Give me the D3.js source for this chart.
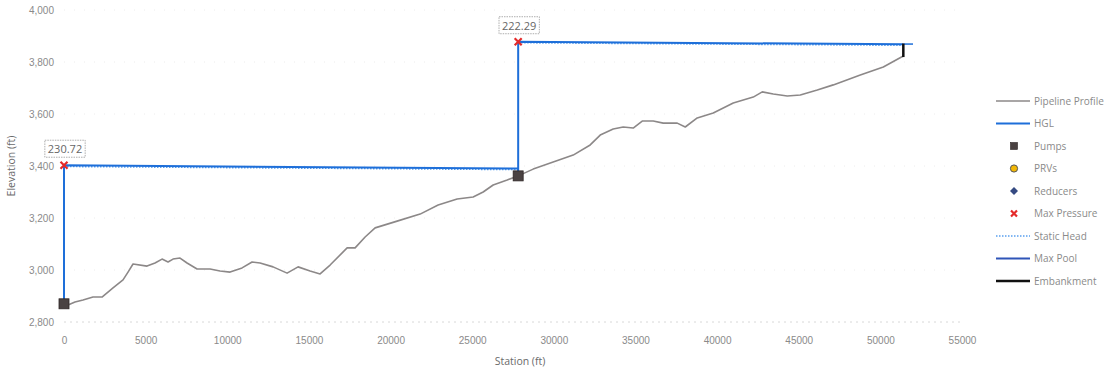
<!DOCTYPE html>
<html>
<head>
<meta charset="utf-8">
<script src="https://cdn.jsdelivr.net/npm/d3@7"></script>
<style>
  html, body { margin: 0; padding: 0; background: #fff; }
  svg { display: block; font-family: "Open Sans", "DejaVu Sans", sans-serif; }
</style>
</head>
<body>
<svg id="chart" width="1112" height="372"></svg>
<script>
// Ground profile along the pipeline: station (ft) and elevation (ft)
const profileStation = [0, 245, 674, 1164, 1777, 2328, 3002, 3615, 3921, 4227, 5085, 5575, 6004, 6372, 6678, 7107, 7536, 8149, 8945, 9558, 10171, 10906, 11519, 12009, 12805, 13663, 14337, 15072, 15685, 16298, 17340, 17830, 18443, 19055, 20403, 21812, 22915, 24079, 25059, 25672, 26285, 27143, 27817, 28736, 29961, 31186, 32228, 32841, 33637, 34250, 34863, 35414, 36088, 36701, 37559, 38049, 38784, 39764, 40990, 42215, 42767, 43441, 44299, 45095, 46137, 47117, 48771, 50181, 51406];
const profileElev = [2870, 2865, 2877, 2885, 2896, 2896, 2931, 2962, 2992, 3023, 3015, 3027, 3042, 3031, 3042, 3046, 3027, 3004, 3004, 2996, 2992, 3008, 3031, 3027, 3012, 2988, 3012, 2996, 2985, 3019, 3085, 3085, 3127, 3162, 3188, 3215, 3250, 3273, 3281, 3300, 3327, 3346, 3362, 3388, 3415, 3442, 3481, 3519, 3542, 3550, 3546, 3573, 3573, 3565, 3565, 3550, 3585, 3604, 3642, 3665, 3685, 3677, 3669, 3673, 3692, 3712, 3750, 3781, 3823];

// Hydraulic grade line, one segment per pump
const hglStation = [[0, 0, 27817], [27817, 27817, 51406]];
const hglElev = [[2870, 3403, 3390], [3362, 3878, 3868]];

// Static head lines
const staticStation = [[0, 27817], [27817, 51406]];
const staticElev = [[3398, 3386], [3874, 3864]];

// Pump stations
const pumpStation = [0, 27817];
const pumpElev = [2870, 3362];

// Maximum pressure points (psi) on each segment
const maxPStation = [0, 27817];
const maxPElev = [3403, 3878];
const maxPLabel = ["230.72", "222.29"];

// Max pool and embankment at the downstream end
const poolStation = [51406, 52000];
const poolElev = [3869, 3869];
const embStation = [51406, 51406];
const embElev = [3819, 3871];

// Axis ticks
const xTicks = [0, 5000, 10000, 15000, 20000, 25000, 30000, 35000, 40000, 45000, 50000, 55000];
const yTicks = [2800, 3000, 3200, 3400, 3600, 3800, 4000];

const legendNames = ["Pipeline Profile", "HGL", "Pumps", "PRVs", "Reducers", "Max Pressure", "Static Head", "Max Pool", "Embankment"];

const svg = d3.select("#chart");
const margin = { left: 64, right: 150, top: 10, bottom: 50 };
const W = 1112, H = 372;

const x = d3.scaleLinear().domain([0, 55000]).range([margin.left, W - margin.right]);
const y = d3.scaleLinear().domain([2800, 4000]).range([H - margin.bottom, margin.top]);

const C = {
  profile: "#8c8888",
  hgl: "#1e6fd9",
  stat: "#5aa0ee",
  pool: "#2f55b8",
  pump: "#4a4242",
  prv: "#f2b705",
  reducer: "#354a82",
  maxp: "#e42a2a",
  emb: "#111",
  text: "#8a8a8a"
};

// gridlines
svg.append("g")
  .selectAll("line")
  .data(yTicks)
  .join("line")
  .attr("x1", x(0)).attr("x2", x(55000))
  .attr("y1", d => y(d)).attr("y2", d => y(d))
  .attr("stroke", d => d === 2800 ? "#d8d8d8" : "#ececec")
  .attr("stroke-width", 1)
  .attr("stroke-dasharray", d => d === 2800 ? "2,4" : "1,9");

// y axis labels
const yAxis = d3.axisLeft(y).tickValues(yTicks).tickFormat(d3.format(",")).tickSize(0).tickPadding(10);
const gy = svg.append("g").attr("transform", `translate(${x(0)},0)`).call(yAxis);
gy.select(".domain").remove();
gy.selectAll("text").attr("fill", C.text).style("font-size", "10px");

// x axis labels
const xAxis = d3.axisBottom(x).tickValues(xTicks).tickFormat(d3.format("d")).tickSize(0).tickPadding(15);
const gx = svg.append("g").attr("transform", `translate(0,${y(2800)})`).call(xAxis);
gx.select(".domain").remove();
gx.selectAll("text").attr("fill", C.text).style("font-size", "10px");

// axis titles
svg.append("text")
  .attr("x", (x(0) + x(55000)) / 2 + 7).attr("y", 365)
  .attr("text-anchor", "middle").attr("fill", "#6a6a6a").style("font-size", "10.5px")
  .text("Station (ft)");
svg.append("text")
  .attr("transform", `translate(15,${y(3400)}) rotate(-90)`)
  .attr("text-anchor", "middle").attr("fill", "#6a6a6a").style("font-size", "10.5px")
  .text("Elevation (ft)");

const line = d3.line().x(d => x(d[0])).y(d => y(d[1]));

// pipeline profile
svg.append("path")
  .datum(d3.zip(profileStation, profileElev))
  .attr("d", line)
  .attr("fill", "none").attr("stroke", C.profile).attr("stroke-width", 1.6)
  .attr("stroke-linejoin", "round");

// static head
staticStation.forEach((st, i) => {
  svg.append("path")
    .datum(d3.zip(st, staticElev[i]))
    .attr("d", line)
    .attr("fill", "none").attr("stroke", C.stat).attr("stroke-width", 1.5)
    .attr("stroke-dasharray", "1.5,1.5");
});

// HGL
hglStation.forEach((st, i) => {
  svg.append("path")
    .datum(d3.zip(st, hglElev[i]))
    .attr("d", line)
    .attr("fill", "none").attr("stroke", C.hgl).attr("stroke-width", 2);
});

// max pool
svg.append("path")
  .datum(d3.zip(poolStation, poolElev))
  .attr("d", line)
  .attr("fill", "none").attr("stroke", C.hgl).attr("stroke-width", 1.5);

// embankment
svg.append("path")
  .datum(d3.zip(embStation, embElev))
  .attr("d", line)
  .attr("fill", "none").attr("stroke", C.emb).attr("stroke-width", 2.5);

// pumps
svg.append("g").selectAll("rect")
  .data(d3.zip(pumpStation, pumpElev))
  .join("rect")
  .attr("x", d => x(d[0]) - 5).attr("y", d => y(d[1]) - 5)
  .attr("width", 10).attr("height", 10)
  .attr("fill", C.pump).attr("stroke", "#2e2626").attr("stroke-width", 0.8);

// max pressure markers and labels
const xMark = (g, cx, cy, s) => {
  g.append("path")
    .attr("d", `M${cx - s},${cy - s}L${cx + s},${cy + s}M${cx - s},${cy + s}L${cx + s},${cy - s}`)
    .attr("stroke", C.maxp).attr("stroke-width", 2.2).attr("fill", "none");
};
const mp = svg.append("g");
maxPStation.forEach((st, i) => {
  const cx = x(st), cy = y(maxPElev[i]);
  xMark(mp, cx, cy, 3.5);
  const t = mp.append("text")
    .attr("x", cx + 1).attr("y", cy - 12)
    .attr("text-anchor", "middle").attr("fill", "#666")
    .style("font-size", "11px").text(maxPLabel[i]);
  const bb = t.node().getBBox();
  mp.insert("rect", "text")
    .attr("x", bb.x - 3).attr("y", bb.y - 1)
    .attr("width", bb.width + 6).attr("height", bb.height + 2)
    .attr("fill", "#fff").attr("stroke", "#999").attr("stroke-width", 0.8)
    .attr("stroke-dasharray", "1.5,1");
});

// legend
const lg = svg.append("g").attr("transform", "translate(996,101)");
const rowH = 22.5;
legendNames.forEach((name, i) => {
  const g = lg.append("g").attr("transform", `translate(0,${i * rowH})`);
  const sx0 = 0, sx1 = 34, mid = 18;
  if (name === "Pipeline Profile") {
    g.append("line").attr("x1", sx0).attr("x2", sx1).attr("stroke", C.profile).attr("stroke-width", 1.6);
  } else if (name === "HGL") {
    g.append("line").attr("x1", sx0).attr("x2", sx1).attr("stroke", C.hgl).attr("stroke-width", 2);
  } else if (name === "Pumps") {
    g.append("rect").attr("x", mid - 3.5).attr("y", -3.5).attr("width", 7).attr("height", 7)
      .attr("fill", C.pump).attr("stroke", "#2e2626").attr("stroke-width", 0.6);
  } else if (name === "PRVs") {
    g.append("circle").attr("cx", mid).attr("cy", 0).attr("r", 3.6)
      .attr("fill", C.prv).attr("stroke", "#555").attr("stroke-width", 1);
  } else if (name === "Reducers") {
    g.append("path").attr("d", `M${mid},-4L${mid + 4},0L${mid},4L${mid - 4},0Z`).attr("fill", C.reducer);
  } else if (name === "Max Pressure") {
    xMark(g, mid, 0, 3);
  } else if (name === "Static Head") {
    g.append("line").attr("x1", sx0).attr("x2", sx1).attr("stroke", C.stat).attr("stroke-width", 1.5)
      .attr("stroke-dasharray", "1.5,1.5");
  } else if (name === "Max Pool") {
    g.append("line").attr("x1", sx0).attr("x2", sx1).attr("stroke", C.pool).attr("stroke-width", 1.8);
  } else if (name === "Embankment") {
    g.append("line").attr("x1", sx0).attr("x2", sx1).attr("stroke", C.emb).attr("stroke-width", 2.5);
  }
  g.append("text").attr("x", 38).attr("y", 0).attr("dy", "0.35em")
    .attr("fill", C.text).style("font-size", "10px").text(name);
});
</script>
</body>
</html>
